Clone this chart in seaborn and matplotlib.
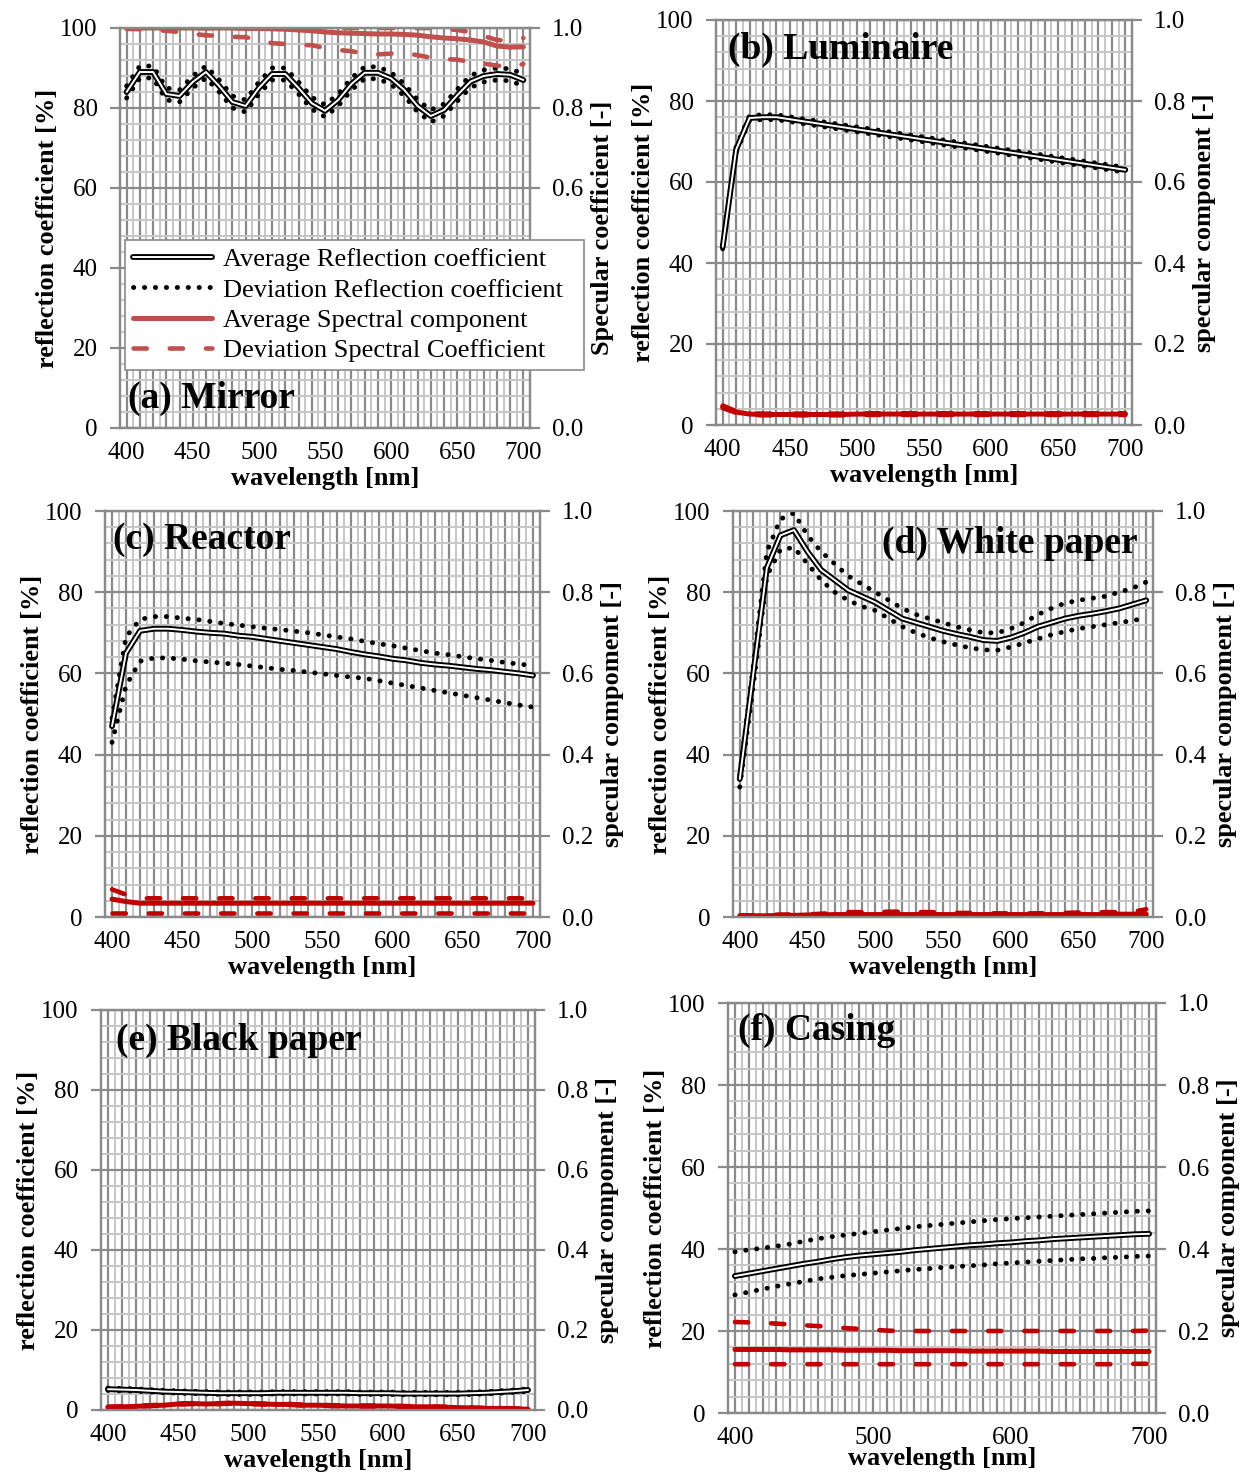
import numpy as np
import pandas as pd
import matplotlib
matplotlib.use("Agg")
import matplotlib.pyplot as plt
import seaborn as sns
from matplotlib.ticker import MultipleLocator, FuncFormatter, FormatStrFormatter
import matplotlib.patheffects as pe
from matplotlib.lines import Line2D

# ---------------- data ----------------
wavelength = list(range(400, 701, 10))

# (a) Mirror
mirror_avg = [84, 89, 89, 83.5, 83, 86.5, 89, 85.5, 81.5, 80.5, 85, 88.5, 88.5, 85, 81.2, 79.3,
              82, 86, 88.8, 88.8, 87.4, 84.5, 80.5, 78, 79.5, 83.2, 86.6, 88, 88.5, 88.3, 87]
mirror_up = [85.5, 90.5, 90.5, 85, 84.5, 88, 90.5, 87, 83, 82, 86.5, 90, 90, 86.5, 82.7, 80.8,
             83.5, 87.5, 90.3, 90.3, 88.9, 86, 82, 79.5, 81, 84.7, 88.1, 89.5, 90, 89.8, 88.5]
mirror_lo = [82.5, 87.5, 87.5, 82, 81.5, 85, 87.5, 84, 80, 79, 83.5, 87, 87, 83.5, 79.7, 77.8,
             80.5, 84.5, 87.3, 87.3, 85.9, 83, 79, 76.5, 78, 81.7, 85.1, 86.5, 87, 86.8, 85.5]
mirror_spec = [1.0, 1.0, 1.0, 1.0, 1.0, 1.0, 1.0, 1.0, 1.0, 0.999, 0.999, 0.998, 0.997, 0.995, 0.993,
               0.99, 0.988, 0.987, 0.986, 0.985, 0.985, 0.984, 0.982, 0.978, 0.975, 0.973, 0.97,
               0.965, 0.955, 0.952, 0.953]
mirror_spec_up = [1.0, 1.0, 1.0, 1.0, 1.0, 1.0, 1.0, 1.0, 1.0, 1.0, 1.0, 1.0, 1.0, 1.0, 1.0, 1.0,
                  1.0, 1.0, 1.0, 1.0, 1.0, 1.0, 1.0, 1.0, 0.998, 0.995, 0.99, 0.98, 0.97, 0.968, 0.975]
mirror_spec_lo = [0.998, 0.997, 0.995, 0.993, 0.99, 0.985, 0.982, 0.98, 0.978, 0.977, 0.97, 0.962,
                  0.96, 0.958, 0.957, 0.95, 0.945, 0.942, 0.936, 0.934, 0.936, 0.938, 0.932, 0.926,
                  0.922, 0.921, 0.915, 0.911, 0.906, 0.902, 0.91]

# (b) Luminaire
lum_avg = [44, 68, 75.8, 76, 76, 75.5, 75, 74.5, 74, 73.5, 73, 72.5, 72, 71.5, 71, 70.5,
           70, 69.5, 69, 68.5, 68, 67.5, 67, 66.5, 66, 65.5, 65, 64.5, 64, 63.5, 63]
lum_up = [44.5, 68.8, 76.4, 76.6, 76.6, 76.1, 75.6, 75.1, 74.6, 74.1, 73.6, 73.1, 72.6, 72.1, 71.6,
          71.1, 70.6, 70.1, 69.6, 69.1, 68.6, 68.1, 67.6, 67.1, 66.6, 66.1, 65.6, 65.1, 64.6, 64.1, 63.6]
lum_lo = [43.5, 67.2, 75.2, 75.4, 75.4, 74.9, 74.4, 73.9, 73.4, 72.9, 72.4, 71.9, 71.4, 70.9, 70.4,
          69.9, 69.4, 68.9, 68.4, 67.9, 67.4, 66.9, 66.4, 65.9, 65.4, 64.9, 64.4, 63.9, 63.4, 62.9, 62.4]
lum_spec = [0.045, 0.032, 0.027, 0.026, 0.026, 0.026, 0.026, 0.026, 0.026, 0.026, 0.027, 0.027,
            0.027, 0.027, 0.027, 0.027, 0.027, 0.027, 0.027, 0.027, 0.027, 0.027, 0.027, 0.027,
            0.027, 0.027, 0.027, 0.027, 0.027, 0.027, 0.027]
lum_spec_up = [0.048, 0.034, 0.029, 0.028, 0.028, 0.028, 0.028, 0.028, 0.028, 0.028, 0.029, 0.029,
               0.029, 0.029, 0.029, 0.029, 0.029, 0.029, 0.029, 0.029, 0.029, 0.029, 0.029, 0.029,
               0.029, 0.029, 0.029, 0.029, 0.029, 0.029, 0.029]
lum_spec_lo = [0.042, 0.030, 0.025, 0.024, 0.024, 0.024, 0.024, 0.024, 0.024, 0.024, 0.025, 0.025,
               0.025, 0.025, 0.025, 0.025, 0.025, 0.025, 0.025, 0.025, 0.025, 0.025, 0.025, 0.025,
               0.025, 0.025, 0.025, 0.025, 0.025, 0.025, 0.025]

# (c) Reactor
rea_avg = [47, 65, 70.5, 71, 71, 70.7, 70.3, 70, 69.8, 69.3, 69, 68.5, 68, 67.5, 67, 66.5,
           66, 65.3, 64.7, 64.2, 63.6, 63.2, 62.6, 62.2, 61.9, 61.5, 61.1, 60.8, 60.4, 60, 59.5]
rea_up = [49, 69, 73.3, 74, 74, 73.6, 73.3, 72.8, 72.3, 71.9, 71.5, 71.1, 70.8, 70.4, 70, 69.5,
          69, 68.5, 67.9, 67.3, 66.8, 66.2, 65.6, 65, 64.6, 64.1, 63.6, 63.2, 62.7, 62.3, 61.9]
rea_lo = [43, 57, 63, 63.8, 63.8, 63.5, 63.1, 62.8, 62.5, 62.2, 61.8, 61.4, 61, 60.7, 60.3, 59.9,
          59.5, 59.1, 58.8, 58.2, 57.6, 57, 56.4, 55.8, 55.2, 54.6, 54, 53.4, 52.8, 52.2, 51.7]
rea_spec = [0.044, 0.038] + [0.034] * 29
rea_spec_up = [0.068, 0.055] + [0.046] * 29
rea_spec_lo = [0.011] * 31

# (d) White paper
wp_avg = [34, 60, 86, 94, 95.3, 90, 85.5, 83, 80.5, 79, 77.5, 75.5, 73.5, 72.5, 71.5, 70.5,
          69.7, 69, 68.2, 68, 68.8, 70, 71.5, 72.5, 73.5, 74.2, 74.7, 75.3, 76, 77, 78]
wp_up = [35, 62, 90, 98, 99.5, 94, 90, 87, 84, 82, 80, 78, 76, 74.5, 73.5, 72.5,
         71.5, 70.7, 70, 70, 71, 72.5, 74.5, 76, 77.3, 78, 78.5, 79, 80, 81, 82.5]
wp_lo = [32, 57, 84, 90.5, 91, 87, 83, 80, 78, 76.5, 75.5, 73.5, 71.5, 70, 68.8, 67.8,
         67, 66.3, 65.8, 65.7, 66.5, 67.5, 68.5, 69.5, 70.3, 71, 71.5, 72, 72.5, 73, 73.7]
wp_spec = [0.002, 0.003, 0.003, 0.004, 0.004, 0.005, 0.005, 0.006, 0.006, 0.006, 0.006, 0.006,
           0.006, 0.006, 0.006, 0.006, 0.006, 0.006, 0.006, 0.006, 0.006, 0.006, 0.006, 0.006,
           0.006, 0.006, 0.006, 0.006, 0.007, 0.007, 0.007]
wp_spec_up = [0.004, 0.004, 0.005, 0.006, 0.006, 0.006, 0.008, 0.010, 0.012, 0.012, 0.012, 0.013,
              0.013, 0.012, 0.012, 0.011, 0.010, 0.010, 0.009, 0.009, 0.009, 0.009, 0.009, 0.010,
              0.010, 0.011, 0.011, 0.012, 0.012, 0.013, 0.019]
wp_spec_lo = [0.001, 0.001, 0.001, 0.002, 0.002, 0.002, 0.002, 0.002, 0.002, 0.002, 0.002, 0.002,
              0.002, 0.002, 0.002, 0.002, 0.002, 0.002, 0.002, 0.002, 0.002, 0.002, 0.002, 0.002,
              0.002, 0.002, 0.002, 0.002, 0.002, 0.002, 0.002]

# (e) Black paper
bp_avg = [5.2, 5.1, 5.0, 4.8, 4.6, 4.5, 4.4, 4.3, 4.2, 4.2, 4.2, 4.2, 4.3, 4.3, 4.3, 4.3,
          4.3, 4.3, 4.2, 4.2, 4.2, 4.1, 4.1, 4.1, 4.1, 4.1, 4.2, 4.3, 4.5, 4.7, 5.0]
bp_up = [5.5, 5.4, 5.3, 5.1, 4.9, 4.8, 4.7, 4.6, 4.5, 4.5, 4.5, 4.5, 4.6, 4.6, 4.6, 4.6,
         4.6, 4.6, 4.5, 4.5, 4.5, 4.4, 4.4, 4.4, 4.4, 4.4, 4.5, 4.6, 4.8, 5.0, 5.3]
bp_lo = [4.9, 4.8, 4.7, 4.5, 4.3, 4.2, 4.1, 4.0, 3.9, 3.9, 3.9, 3.9, 4.0, 4.0, 4.0, 4.0,
         4.0, 4.0, 3.9, 3.9, 3.9, 3.8, 3.8, 3.8, 3.8, 3.8, 3.9, 4.0, 4.2, 4.4, 4.7]
bp_spec = [0.007, 0.008, 0.009, 0.011, 0.012, 0.015, 0.016, 0.015, 0.016, 0.017, 0.016, 0.015,
           0.014, 0.014, 0.012, 0.012, 0.011, 0.010, 0.010, 0.010, 0.010, 0.009, 0.008, 0.008,
           0.007, 0.006, 0.005, 0.004, 0.004, 0.003, 0.002]
bp_spec_up = [0.008, 0.009, 0.010, 0.012, 0.013, 0.016, 0.017, 0.016, 0.017, 0.018, 0.017, 0.016,
              0.015, 0.015, 0.013, 0.013, 0.012, 0.011, 0.011, 0.011, 0.011, 0.010, 0.009, 0.009,
              0.008, 0.007, 0.006, 0.005, 0.005, 0.004, 0.003]
bp_spec_lo = [0.006, 0.007, 0.008, 0.010, 0.011, 0.014, 0.015, 0.014, 0.015, 0.016, 0.015, 0.014,
              0.013, 0.013, 0.011, 0.011, 0.010, 0.009, 0.009, 0.009, 0.009, 0.008, 0.007, 0.007,
              0.006, 0.005, 0.004, 0.003, 0.003, 0.002, 0.001]

# (f) Casing
cas_avg = [33.4, 34.0, 34.6, 35.2, 35.8, 36.4, 36.9, 37.5, 38.0, 38.4, 38.7, 39.0, 39.3, 39.7, 40.0,
           40.3, 40.6, 40.9, 41.1, 41.4, 41.6, 41.9, 42.1, 42.4, 42.6, 42.8, 43.0, 43.2, 43.4, 43.6, 43.7]
cas_up = [39.3, 39.8, 40.2, 40.7, 41.2, 41.9, 42.5, 43.0, 43.4, 43.8, 44.2, 44.6, 45.0, 45.4, 45.7,
          46.0, 46.3, 46.6, 46.9, 47.2, 47.4, 47.6, 47.8, 48.0, 48.2, 48.4, 48.6, 48.8, 49.0, 49.2, 49.3]
cas_lo = [28.8, 29.5, 30.2, 30.9, 31.5, 32.1, 32.7, 33.1, 33.5, 33.8, 34.1, 34.4, 34.7, 35.0, 35.2,
          35.5, 35.7, 35.9, 36.1, 36.4, 36.6, 36.8, 37.0, 37.2, 37.4, 37.6, 37.7, 37.9, 38.0, 38.2, 38.3]
cas_spec = [0.155, 0.155, 0.155, 0.155, 0.154, 0.154, 0.154, 0.154, 0.153, 0.153, 0.153, 0.153,
            0.152, 0.152, 0.152, 0.152, 0.152, 0.151, 0.151, 0.151, 0.151, 0.151, 0.151, 0.150,
            0.150, 0.150, 0.150, 0.150, 0.150, 0.150, 0.150]
cas_spec_up = [0.222, 0.221, 0.220, 0.218, 0.216, 0.214, 0.212, 0.210, 0.207, 0.205, 0.203, 0.201,
               0.200, 0.200, 0.200, 0.200, 0.200, 0.200, 0.200, 0.200, 0.200, 0.200, 0.200, 0.200,
               0.200, 0.200, 0.200, 0.200, 0.200, 0.200, 0.201]
cas_spec_lo = [0.119] * 29 + [0.120, 0.120]

panel_titles = ["(a) Mirror", "(b) Luminaire", "(c) Reactor", "(d) White paper",
                "(e) Black paper", "(f) Casing"]
left_label = "reflection coefficient [%]"
right_labels = ["Specular coefficient [-]", "specular component [-]", "specular compoment [-]",
                "specular compoment [-]", "specular compoment [-]", "specular component [-]"]
x_label = "wavelength [nm]"
legend_labels = ["Average Reflection coefficient", "Deviation Reflection coefficient",
                 "Average Spectral component", "Deviation Spectral Coefficient"]
# right-axis labels of panel (a) that the legend box covers in the original
hidden_right_ticks_a = [0.2, 0.4]

# ---------------- style ----------------
sns.set_style("white")
plt.rcParams['font.family'] = ['Liberation Serif', 'DejaVu Serif']
plt.rcParams['text.color'] = 'black'
plt.rcParams['axes.labelcolor'] = 'black'

W, H = 1250, 1472
fig = plt.figure(figsize=(W / 100, H / 100), dpi=100)

# panel boxes in pixels: left, top, right, bottom
boxes = [(120, 28, 530, 428), (716, 20, 1132, 425),
         (105, 511, 540, 917), (733, 511, 1153, 917),
         (101, 1010, 535, 1410), (728, 1003, 1156, 1413)]

MAJ = '#8a8a8a'
MIN = '#c6c6c6'
RED_A = '#C0504D'
RED = '#C00000'

avg_fx = [pe.Stroke(linewidth=4.2, foreground='black'), pe.Normal()]
DOT_LW = 3.5
dot_style = (0, (0.05, 2.2))
dash_style = (0, (2.9, 5.0))

datasets = [
    (mirror_avg, mirror_up, mirror_lo, mirror_spec, mirror_spec_up, mirror_spec_lo),
    (lum_avg, lum_up, lum_lo, lum_spec, lum_spec_up, lum_spec_lo),
    (rea_avg, rea_up, rea_lo, rea_spec, rea_spec_up, rea_spec_lo),
    (wp_avg, wp_up, wp_lo, wp_spec, wp_spec_up, wp_spec_lo),
    (bp_avg, bp_up, bp_lo, bp_spec, bp_spec_up, bp_spec_lo),
    (cas_avg, cas_up, cas_lo, cas_spec, cas_spec_up, cas_spec_lo),
]

title_pos = [(0.02, 0.075, 'left'), (0.029, 0.928, 'left'), (0.018, 0.929, 'left'),
             (0.964, 0.921, 'right'), (0.035, 0.925, 'left'), (0.023, 0.932, 'left')]
xlabel_pads = [2, 2, 2, 2, 2, -1.5]

TICK_FS = 18
LAB_FS = 19

for i, (box, data) in enumerate(zip(boxes, datasets)):
    l, t, r, b = box
    ax = fig.add_axes([l / W, 1 - b / H, (r - l) / W, (b - t) / H])
    avg, up, lo, sp, sp_up, sp_lo = data
    df = pd.DataFrame({"wl": wavelength, "avg": avg, "up": up, "lo": lo,
                       "sp": sp, "sp_up": sp_up, "sp_lo": sp_lo})
    red = RED_A if i == 0 else RED

    ax.set_xlim(395, 705)
    ax.set_ylim(0, 100)
    ax.set_axisbelow(True)
    ax.xaxis.set_major_locator(MultipleLocator(10))
    ax.xaxis.set_minor_locator(MultipleLocator(5))
    ax.yaxis.set_major_locator(MultipleLocator(20))
    ax.yaxis.set_minor_locator(MultipleLocator(4))
    step = 100 if i == 5 else 50
    ax.xaxis.set_major_formatter(FuncFormatter(
        lambda v, p, s=step: f"{int(round(v))}" if int(round(v)) % s == 0 else ""))
    ax.grid(which='major', color=MAJ, lw=1.6)
    ax.grid(which='minor', color=MIN, lw=1.4)
    for s in ax.spines.values():
        s.set_color(MAJ)
        s.set_linewidth(1.6)
    ax.tick_params(axis='x', which='major', direction='out', length=7, width=1.6,
                   color=MAJ, labelcolor='black', labelsize=TICK_FS, pad=3)
    ax.tick_params(axis='y', which='major', direction='out', length=7, width=1.6,
                   color=MAJ, labelcolor='black', labelsize=TICK_FS, pad=9)
    ax.tick_params(axis='x', which='minor', direction='out', length=7, width=1.4, color=MIN)
    ax.tick_params(axis='y', which='minor', length=0)

    sns.lineplot(data=df, x="wl", y="up", ax=ax, color='black', lw=DOT_LW,
                 linestyle=dot_style, dash_capstyle='round', zorder=3)
    sns.lineplot(data=df, x="wl", y="lo", ax=ax, color='black', lw=DOT_LW,
                 linestyle=dot_style, dash_capstyle='round', zorder=3)
    sns.lineplot(data=df, x="wl", y="avg", ax=ax, color='white', lw=1.4,
                 path_effects=avg_fx, zorder=4)

    ax.set_xlabel(x_label, fontsize=LAB_FS, fontweight='bold', labelpad=xlabel_pads[i])
    ax.set_ylabel(left_label, fontsize=LAB_FS, fontweight='bold', labelpad=1)

    ax2 = ax.twinx()
    ax2.set_ylim(0, 1)
    ax2.yaxis.set_major_locator(MultipleLocator(0.2))
    if i == 0:
        ax2.yaxis.set_major_formatter(FuncFormatter(
            lambda v, p: "" if any(abs(v - h) < 1e-6 for h in hidden_right_ticks_a) else f"{v:.1f}"))
    else:
        ax2.yaxis.set_major_formatter(FormatStrFormatter('%.1f'))
    ax2.grid(False)
    for s in ax2.spines.values():
        s.set_color(MAJ)
        s.set_linewidth(1.6)
    ax2.tick_params(axis='y', which='major', direction='out', length=7, width=1.6,
                    color=MAJ, labelcolor='black', labelsize=TICK_FS, pad=8.5)
    sns.lineplot(data=df, x="wl", y="sp_up", ax=ax2, color=red, lw=3.3,
                 linestyle=dash_style, dash_capstyle='round')
    sns.lineplot(data=df, x="wl", y="sp_lo", ax=ax2, color=red, lw=3.3,
                 linestyle=dash_style, dash_capstyle='round')
    sns.lineplot(data=df, x="wl", y="sp", ax=ax2, color=red, lw=3.6,
                 solid_capstyle='round')
    ax2.set_xlim(395, 705)
    ax2.set_ylabel(right_labels[i], fontsize=LAB_FS, fontweight='bold', labelpad=6)
    ax2.set_xlabel("")

    tx, ty, ha = title_pos[i]
    ax.text(tx, ty, panel_titles[i], transform=ax.transAxes, ha=ha, va='center',
            fontsize=27, fontweight='bold', zorder=6)

    if i == 0:
        handles = [
            Line2D([], [], color='white', lw=1.4, path_effects=avg_fx),
            Line2D([], [], color='black', lw=DOT_LW, linestyle=dot_style, dash_capstyle='round'),
            Line2D([], [], color=red, lw=3.6),
            Line2D([], [], color=red, lw=3.3, linestyle=dash_style, dash_capstyle='round'),
        ]
        leg = ax2.legend(handles, [s + "  " for s in legend_labels], loc='upper left',
                         bbox_to_anchor=(125 / W, 1 - 240 / H), bbox_transform=fig.transFigure,
                         fontsize=19, frameon=True, fancybox=False, framealpha=1,
                         edgecolor='#8a8a8a', handlelength=3.0, handletextpad=0.4,
                         labelspacing=0.26, borderpad=0.3, borderaxespad=0)
        leg.get_frame().set_linewidth(1.2)
        leg.set_zorder(10)

fig.savefig("out.png", dpi=100, facecolor='white')
